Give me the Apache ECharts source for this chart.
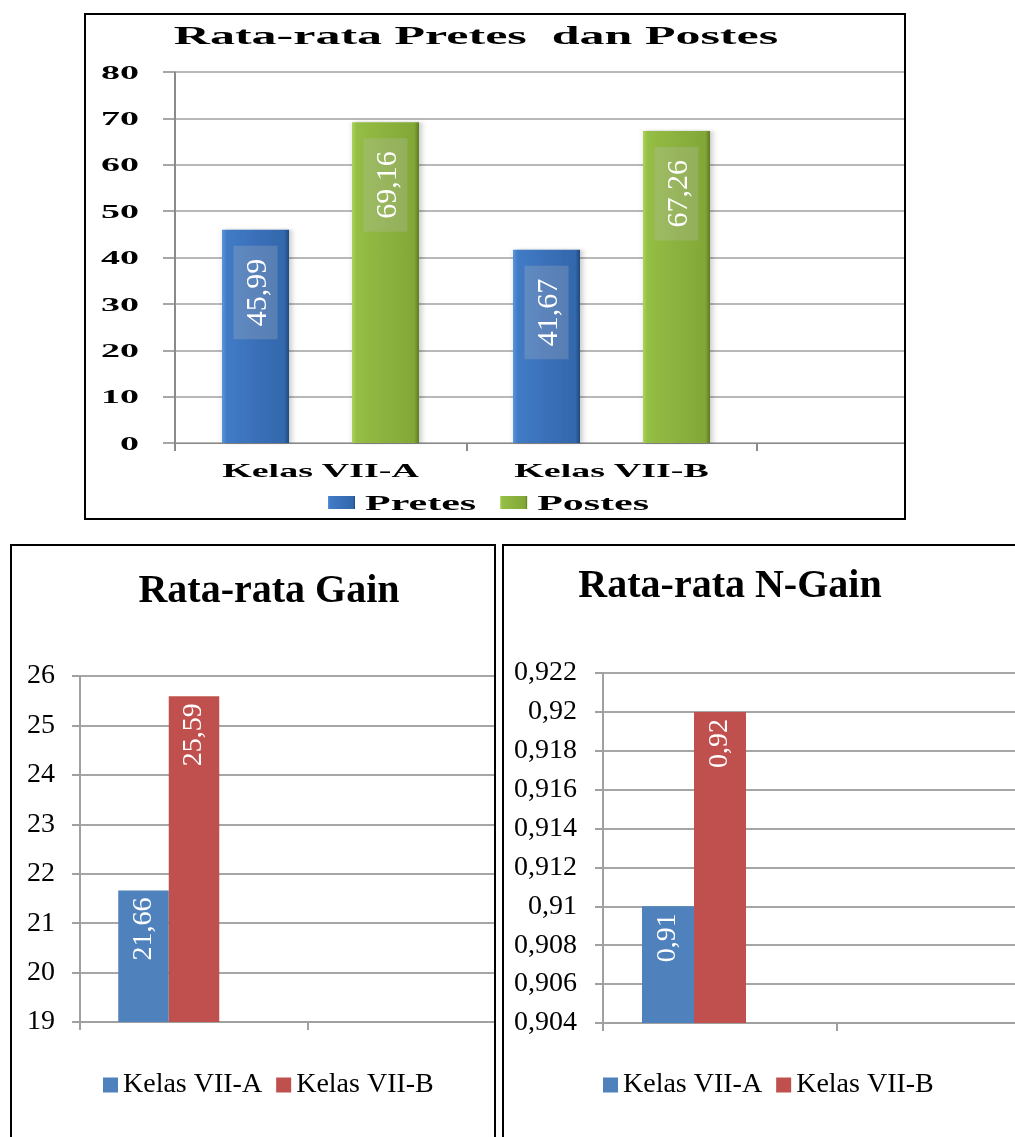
<!DOCTYPE html>
<html>
<head>
<meta charset="utf-8">
<script src="https://cdn.jsdelivr.net/npm/echarts@6/dist/echarts.min.js"></script>
<style>
html,body{margin:0;padding:0;background:#fff;width:1015px;height:1137px;overflow:hidden;position:relative}
.box{position:absolute;border:2px solid #000;overflow:hidden;background:#fff;box-sizing:border-box}
#boxTop{left:84px;top:13px;width:822px;height:507px}
#boxGain{left:10px;top:544px;width:486px;height:600px}
#boxNGain{left:502px;top:544px;width:530px;height:600px}
#chartTop{position:absolute;left:0;top:0;width:500px;height:503px;transform:scaleX(2);transform-origin:0 0}
#chartGain{position:absolute;left:0;top:0;width:560px;height:591px}
#chartNGain{position:absolute;left:0;top:0;width:600px;height:591px}
</style>
</head>
<body>
<div class="box" id="boxTop"><div id="chartTop"></div></div>
<div class="box" id="boxGain"><div id="chartGain"></div></div>
<div class="box" id="boxNGain"><div id="chartNGain"></div></div>
<script>
// ---------- data ----------
const topTitle = 'Rata-rata Pretes  dan Postes';
const topCategories = ['Kelas VII-A', 'Kelas VII-B', ''];
const topSeriesNames = ['Pretes', 'Postes'];
const pretesValues = [45.99, 41.67];
const postesValues = [69.16, 67.26];
const topAxisMin = 0, topAxisMax = 80, topAxisInterval = 10;

const gainTitle = 'Rata-rata Gain';
const classNames = ['Kelas VII-A', 'Kelas VII-B'];
const bottomCategories = ['', ''];
const gainValues = [21.66, 25.59];
const gainAxisMin = 19, gainAxisMax = 26, gainAxisInterval = 1;

const nGainTitle = 'Rata-rata N-Gain';
const nGainValues = [0.91, 0.92];
const nGainAxisMin = 0.904, nGainAxisMax = 0.922, nGainAxisInterval = 0.002;

// ---------- helpers ----------
const serif = '"Liberation Serif", "Times New Roman", serif';
const fmt = v => String(Number(Number(v).toFixed(3))).replace('.', ',');
const S = 2; // horizontal stretch of the top chart
const TOP_BAR_W = 33.5, TOP_BAR_GAP = 0.94;

function grad(stops) {
  return new echarts.graphic.LinearGradient(0, 0, 1, 0, stops.map(c => ({offset: c[0], color: c[1]})));
}
const blueGrad = grad([[0, '#5a95dc'], [0.07, '#417bc6'], [0.5, '#3a70b9'], [0.93, '#3368ac'], [1, '#22497e']]);
const greenGrad = grad([[0, '#acd45c'], [0.07, '#95be45'], [0.5, '#8bb23e'], [0.93, '#82a737'], [1, '#5a7c22']]);

// ---------- top chart ----------
const topLabelData = [];
pretesValues.forEach((v, i) => topLabelData.push([i, v, 0]));
postesValues.forEach((v, i) => topLabelData.push([i, v, 1]));

const topChart = echarts.init(document.getElementById('chartTop'), null, {renderer: 'svg'});
topChart.setOption({
  animation: false,
  title: {
    text: topTitle, left: 190, top: 3, textAlign: 'center',
    textStyle: {fontFamily: serif, fontWeight: 'bold', fontSize: 25, color: '#000'}
  },
  legend: {
    data: topSeriesNames, left: 116, top: 472, itemWidth: 13.5, itemHeight: 13, itemGap: 12, icon: 'rect',
    textStyle: {fontFamily: serif, fontWeight: 'bold', fontSize: 21, color: '#000'}
  },
  grid: {left: 44.5, right: 19, top: 57, bottom: 75},
  xAxis: {
    type: 'category', data: topCategories,
    axisLine: {lineStyle: {color: '#8a8a8a', width: 1}},
    axisTick: {show: true, length: 8, lineStyle: {color: '#8a8a8a', width: 1}},
    axisLabel: {fontFamily: serif, fontWeight: 'bold', fontSize: 19, color: '#000', margin: 18}
  },
  yAxis: {
    type: 'value', min: topAxisMin, max: topAxisMax, interval: topAxisInterval,
    axisLine: {show: true, lineStyle: {color: '#8a8a8a', width: 1}},
    axisTick: {show: true, length: 6, lineStyle: {color: '#8a8a8a', width: 1.5}},
    axisLabel: {fontFamily: serif, fontWeight: 'bold', fontSize: 19, color: '#000', margin: 18, formatter: fmt},
    splitLine: {lineStyle: {color: '#a0a0a0', width: 1.5}}
  },
  series: [
    {name: topSeriesNames[0], type: 'bar', data: pretesValues, barWidth: TOP_BAR_W, barGap: (TOP_BAR_GAP * 100) + '%',
     itemStyle: {color: blueGrad, shadowColor: 'rgba(0,0,0,0.25)', shadowBlur: 3, shadowOffsetX: 1}},
    {name: topSeriesNames[1], type: 'bar', data: postesValues, barWidth: TOP_BAR_W,
     itemStyle: {color: greenGrad, shadowColor: 'rgba(0,0,0,0.25)', shadowBlur: 3, shadowOffsetX: 1}},
    {
      type: 'custom', coordinateSystem: 'cartesian2d', silent: true, z: 10,
      encode: {x: 0, y: 1},
      data: topLabelData,
      renderItem: (params, api) => {
        const p = api.coord([api.value(0), api.value(1)]);
        const half = TOP_BAR_W * (1 + TOP_BAR_GAP) / 2;
        const dx = api.value(2) === 0 ? -half : half;
        return {
          type: 'text', x: p[0] + dx, y: p[1] + 16, rotation: Math.PI / 2, scaleY: 1 / S,
          style: {
            text: fmt(api.value(1)), fill: '#fff', fontFamily: serif, fontSize: 30,
            align: 'right', verticalAlign: 'middle',
            backgroundColor: 'rgba(190,190,190,0.25)', padding: [7, 13, 7, 13]
          }
        };
      }
    }
  ]
});

// ---------- bottom charts ----------
function bottomOption(cfg) {
  const label = {
    show: true, position: 'insideTop', rotate: 90, align: 'right', verticalAlign: 'middle',
    distance: 7, color: '#fff', fontFamily: serif, fontSize: 28,
    formatter: p => fmt(p.value)
  };
  return {
    animation: false,
    title: {
      text: cfg.title, left: cfg.titleX, top: cfg.titleTop, textAlign: 'center',
      textStyle: {fontFamily: serif, fontWeight: 'bold', fontSize: 40, color: '#000'}
    },
    legend: {
      data: classNames, left: cfg.legendLeft, top: 520, itemWidth: 15, itemHeight: 15, itemGap: 14, icon: 'rect',
      textStyle: {fontFamily: serif, fontSize: 28, color: '#000'}
    },
    grid: cfg.grid,
    xAxis: {
      type: 'category', data: bottomCategories,
      axisLine: {lineStyle: {color: '#a0a0a0', width: 2}},
      axisTick: {show: true, length: 8, lineStyle: {color: '#a0a0a0', width: 2}},
      axisLabel: {show: false}
    },
    yAxis: {
      type: 'value', min: cfg.min, max: cfg.max, interval: cfg.interval,
      axisLine: {show: true, lineStyle: {color: '#a0a0a0', width: 2}},
      axisTick: {show: true, length: 8, lineStyle: {color: '#a0a0a0', width: 2}},
      axisLabel: {fontFamily: serif, fontSize: 28, color: '#000', margin: cfg.labelMargin, formatter: fmt},
      splitLine: {lineStyle: {color: '#a6a6a6', width: 2}}
    },
    series: [
      {name: classNames[0], type: 'bar', data: [cfg.values[0], null], barWidth: cfg.barW, barGap: '0%',
       itemStyle: {color: '#4f81bd'}, label: label},
      {name: classNames[1], type: 'bar', data: [cfg.values[1], null], barWidth: cfg.barW, barGap: '0%',
       itemStyle: {color: '#c0504d'}, label: label},
      {name: '', type: 'bar', data: [null, null], barWidth: cfg.barW, barGap: '0%'}
    ]
  };
}

echarts.init(document.getElementById('chartGain')).setOption(bottomOption({
  title: gainTitle, titleX: 252, titleTop: 21, legendLeft: 86,
  grid: {left: 68, right: 36, top: 130, bottom: 115},
  min: gainAxisMin, max: gainAxisMax, interval: gainAxisInterval,
  labelMargin: 25, barW: 50.5, values: gainValues
}));

echarts.init(document.getElementById('chartNGain')).setOption(bottomOption({
  title: nGainTitle, titleX: 221, titleTop: 16, legendLeft: 94,
  grid: {left: 99, right: 33, top: 127, bottom: 114},
  min: nGainAxisMin, max: nGainAxisMax, interval: nGainAxisInterval,
  labelMargin: 26, barW: 52, values: nGainValues
}));
</script>
</body>
</html>
